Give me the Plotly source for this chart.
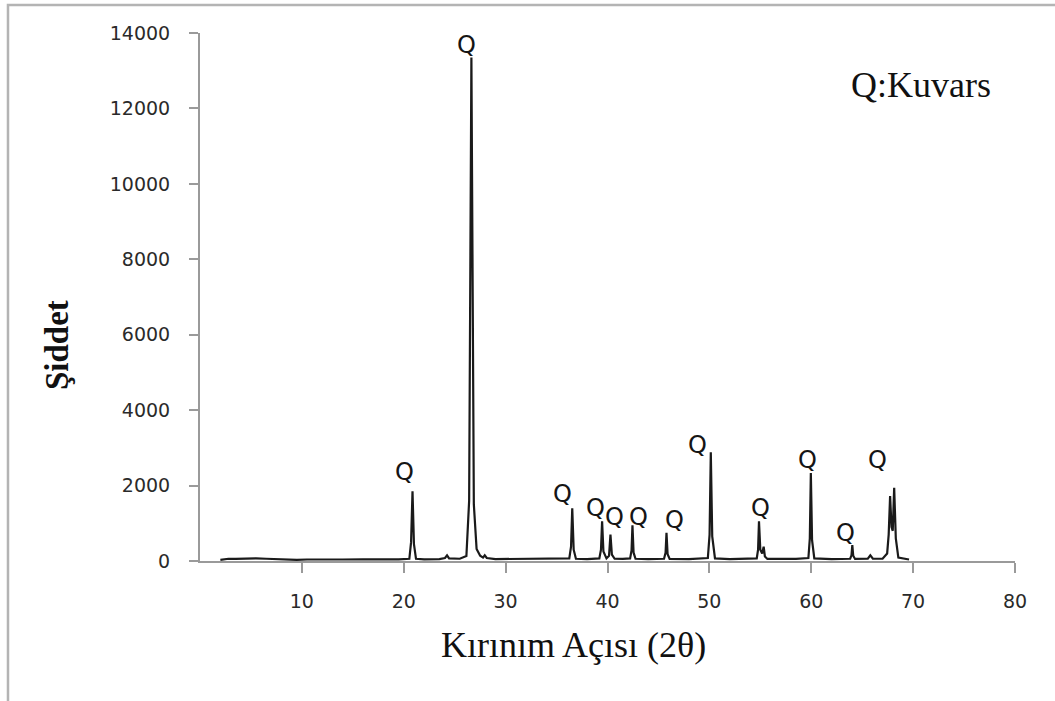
import plotly.graph_objects as go

# XRD pattern: diffraction angle (2-theta, degrees) and intensity (counts)
two_theta = [
    2.0, 2.8, 3.5, 4.5, 5.5, 6.5, 7.5, 8.5, 9.5, 10.5, 12.0, 14.0, 16.0, 18.0,
    19.5, 20.55, 20.72, 20.86, 21.0, 21.2, 22.0, 23.5, 24.05, 24.25, 24.45,
    25.5, 26.15, 26.42, 26.64, 26.88, 27.15, 27.5, 27.78, 27.95, 28.15, 29.0,
    31.0, 33.0, 35.0, 36.25, 36.42, 36.54, 36.68, 36.9, 38.0, 39.2, 39.36,
    39.47, 39.6, 39.9, 40.15, 40.29, 40.43, 40.7, 41.5, 42.22, 42.36, 42.45,
    42.56, 42.75, 44.0, 45.55, 45.7, 45.79, 45.9, 46.1, 48.0, 49.85, 50.02,
    50.14, 50.28, 50.55, 52.0, 53.5, 54.65, 54.78, 54.87, 55.0, 55.18, 55.33,
    55.45, 55.7, 57.0, 58.5, 59.72, 59.86, 59.96, 60.08, 60.3, 62.0, 63.82,
    63.95, 64.03, 64.12, 64.3, 65.55, 65.8, 66.05, 67.0, 67.45, 67.6, 67.74,
    67.88, 68.0, 68.14, 68.3, 68.55, 69.0, 69.6,
]
intensity = [
    30, 60, 55, 65, 70, 60, 50, 35, 30, 40, 35, 40, 45, 40,
    45, 60, 500, 1850, 450, 60, 45, 50, 80, 150, 70,
    60, 130, 1600, 13350, 1500, 320, 140, 90, 150, 80, 50,
    50, 55, 50, 70, 380, 1400, 300, 60, 50, 70, 300,
    1050, 250, 70, 140, 700, 170, 60, 55, 70, 280, 950,
    220, 60, 50, 60, 220, 750, 180, 55, 50, 80, 700,
    2880, 650, 70, 50, 55, 70, 300, 1050, 300, 200, 380,
    120, 55, 50, 55, 80, 600, 2330, 550, 70, 50, 60,
    150, 420, 140, 55, 60, 150, 60, 60, 200, 700, 1720,
    900, 800, 1940, 600, 90, 60, 40,
]

# Quartz peak markers
q_x = [20.1, 26.2, 35.6, 38.8, 40.7, 43.0, 46.6, 48.8, 55.0, 59.6, 63.4, 66.5]
q_y = [2360, 13680, 1780, 1410, 1170, 1170, 1090, 3080, 1410, 2680, 740, 2680]

x_ticks = [10, 20, 30, 40, 50, 60, 70, 80]
y_ticks = [0, 2000, 4000, 6000, 8000, 10000, 12000, 14000]

fig = go.Figure()
fig.add_trace(go.Scatter(
    x=two_theta, y=intensity, mode="lines",
    line=dict(color="#1a1a1a", width=2.2),
    hoverinfo="x+y", showlegend=False,
))

for qx, qy in zip(q_x, q_y):
    fig.add_annotation(
        x=qx, y=qy, text="Q", showarrow=False,
        xanchor="center", yanchor="middle",
        font=dict(family="DejaVu Sans", size=24, color="#151515"),
    )

# Legend-style note
fig.add_annotation(
    xref="paper", yref="paper", x=0.885, y=0.9015, text="Q:Kuvars",
    showarrow=False, xanchor="center", yanchor="middle",
    font=dict(family="Liberation Serif", size=36, color="#111111"),
)

# Axis titles
fig.add_annotation(
    xref="paper", yref="paper", x=0.4577, y=-0.159, text="Kırınım Açısı (2θ)",
    showarrow=False, xanchor="center", yanchor="middle",
    font=dict(family="Liberation Serif", size=36, color="#111111"),
)
fig.add_annotation(
    xref="paper", yref="paper", x=-0.1755, y=0.409, text="<b>Şiddet</b>",
    showarrow=False, xanchor="center", yanchor="middle", textangle=-90,
    font=dict(family="Liberation Serif", size=33, color="#111111"),
)

# Outer frame (top and left edges)
fig.add_shape(
    type="path", xref="paper", yref="paper",
    path="M -0.2356,-0.3 L -0.2356,1.053 L 1.1,1.053",
    line=dict(color="#b4b4b4", width=2.5),
)

fig.update_xaxes(
    range=[0, 80], tickvals=x_ticks, ticktext=[str(v) for v in x_ticks],
    showline=True, linecolor="#9a9a9a", linewidth=2,
    ticks="outside", ticklen=10, tickwidth=2, tickcolor="#9a9a9a",
    showgrid=False, zeroline=False, ticklabelstandoff=12,
    tickfont=dict(family="DejaVu Sans", size=19, color="#2a2a2a"),
)
fig.update_yaxes(
    range=[0, 14000], tickvals=y_ticks, ticktext=[str(v) for v in y_ticks],
    showline=True, linecolor="#9a9a9a", linewidth=2,
    ticks="outside", ticklen=9, tickwidth=2, tickcolor="#9a9a9a",
    showgrid=False, zeroline=False, ticklabelstandoff=15,
    tickfont=dict(family="DejaVu Sans", size=19, color="#2a2a2a"),
)

fig.update_layout(
    width=1055, height=701,
    margin=dict(l=200, r=40, t=33, b=140),
    paper_bgcolor="white", plot_bgcolor="white",
)

fig.write_html("out.html")
